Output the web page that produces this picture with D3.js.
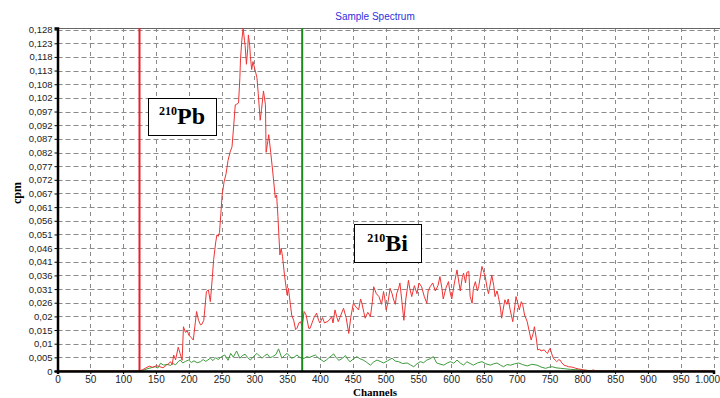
<!DOCTYPE html>
<html>
<head>
<meta charset="utf-8">
<script src="https://cdn.jsdelivr.net/npm/d3@7"></script>
<style>
  body { margin: 0; background: #fff; }
  svg { display: block; }
</style>
</head>
<body>
<svg id="chart" width="720" height="398"></svg>
<script>
// channel / cpm readings
const redSpectrum = [
  [0,0],[125,0],[130,0.0005],[135,0.0012],[140,0.0018],[145,0.0014],[151,0.002],[156,0.0016],[161,0.0012],[166,0.0022],
  [170,0.0028],[172,0.0035],[175,0.0025],[177,0.006],[180,0.0042],[184,0.0089],[187,0.0065],[190,0.004],[192,0.0166],[195,0.0145],
  [198,0.015],[200,0.0135],[204,0.0125],[207,0.0116],[210,0.018],[212,0.0223],[215,0.019],[218,0.0173],[220,0.0175],[223,0.019],
  [227,0.0298],[230,0.0304],[233,0.026],[236,0.035],[238,0.0417],[241,0.048],[243,0.051],[245,0.0505],[247,0.052],[249,0.059],
  [251,0.066],[254,0.071],[257,0.074],[260,0.079],[263,0.082],[266,0.084],[268,0.09],[271,0.0998],[273,0.1],[276,0.1005],
  [278,0.11],[279,0.117],[281,0.124],[283,0.1286],[285,0.124],[286,0.122],[288,0.115],[290,0.121],[291,0.126],[293,0.122],
  [294,0.118],[296,0.113],[298,0.116],[301,0.113],[304,0.110],[306,0.104],[309,0.094],[311,0.098],[314,0.105],[317,0.0998],
  [318,0.082],[320,0.085],[322,0.0886],[325,0.082],[328,0.075],[332,0.065],[334,0.066],[336,0.058],[339,0.0435],[341,0.046],
  [343,0.043],[346,0.036],[350,0.0285],[352,0.031],[355,0.025],[357,0.021],[360,0.019],[363,0.0155],[365,0.016],[368,0.018],
  [370,0.0185],[373,0.017],[376,0.0223],[379,0.021],[383,0.016],[385,0.016],[388,0.018],[391,0.02],[395,0.0217],[398,0.019],
  [400,0.018],[404,0.02],[407,0.018],[411,0.0185],[414,0.019],[418,0.0204],[420,0.018],[423,0.0229],[426,0.02],[428,0.0185],
  [432,0.021],[436,0.0235],[440,0.02],[444,0.0141],[447,0.02],[451,0.0254],[455,0.024],[459,0.0229],[462,0.027],[464,0.0254],
  [467,0.022],[469,0.0198],[473,0.022],[477,0.0204],[480,0.026],[482,0.0316],[486,0.029],[490,0.0279],[494,0.025],[497,0.0298],
  [499,0.027],[501,0.0229],[504,0.026],[507,0.031],[510,0.029],[512,0.027],[515,0.025],[517,0.029],[520,0.031],[522,0.033],
  [525,0.026],[528,0.019],[531,0.027],[535,0.034],[537,0.031],[540,0.0279],[544,0.032],[548,0.029],[551,0.033],[555,0.0316],
  [559,0.028],[563,0.0254],[565,0.03],[568,0.0316],[572,0.033],[576,0.030],[580,0.032],[583,0.0354],[586,0.031],[588,0.027],
  [592,0.031],[596,0.0335],[598,0.03],[601,0.027],[605,0.033],[609,0.0379],[612,0.033],[614,0.030],[617,0.035],[619,0.0367],
  [622,0.033],[624,0.037],[627,0.0373],[629,0.028],[632,0.0254],[634,0.031],[637,0.0335],[640,0.03],[642,0.0316],[645,0.036],
  [647,0.0392],[650,0.037],[652,0.0354],[655,0.031],[657,0.029],[660,0.033],[662,0.036],[665,0.032],[667,0.0279],[670,0.03],
  [672,0.028],[675,0.024],[677,0.0198],[680,0.024],[682,0.0267],[685,0.025],[687,0.027],[690,0.023],[694,0.0185],[697,0.024],
  [699,0.0279],[702,0.025],[704,0.0229],[707,0.026],[709,0.025],[712,0.021],[716,0.0185],[719,0.015],[722,0.0116],[725,0.014],
  [727,0.0166],[730,0.012],[732,0.0079],[735,0.0082],[737,0.0075],[740,0.0078],[742,0.0079],[745,0.007],[747,0.0066],[749,0.0078],
  [751,0.0085],[754,0.006],[756,0.0048],[759,0.004],[761,0.0035],[764,0.0042],[766,0.0041],[769,0.003],[772,0.0022],[776,0.0019],
  [779,0.0016],[783,0.0015],[787,0.0013],[790,0.001],[794,0.0008],[798,0.0006],[802,0.0004],[808,0.0002],[813,0.0001],[817,0.0004],
  [820,0.0001],[825,0],[1000,0]
];

const greenSpectrum = [
  [0,0],[125,0],[132,0.0004],[138,0.0009],[144,0.0013],[149,0.0016],[153,0.0011],[157,0.0029],[162,0.0022],[167,0.0025],
  [172,0.0021],[176,0.0028],[180,0.0023],[184,0.0035],[187,0.0041],[191,0.003],[195,0.0036],[200,0.0041],[204,0.0032],[208,0.0038],
  [213,0.0031],[218,0.0035],[222,0.0043],[226,0.0036],[229,0.0041],[233,0.0048],[237,0.0039],[241,0.005],[245,0.0043],[250,0.0054],
  [255,0.006],[260,0.004],[264,0.0066],[268,0.0052],[273,0.0075],[278,0.0048],[282,0.0058],[286,0.0063],[290,0.005],[294,0.0041],
  [299,0.0055],[304,0.0066],[308,0.0056],[312,0.0048],[316,0.0058],[320,0.0063],[324,0.005],[328,0.0054],[333,0.0062],[337,0.0083],
  [342,0.0048],[346,0.0058],[350,0.0066],[354,0.0055],[357,0.0048],[361,0.0052],[365,0.006],[369,0.0052],[373,0.0046],[377,0.0049],
  [380,0.0054],[384,0.0051],[388,0.0055],[393,0.006],[398,0.0048],[402,0.0042],[406,0.0035],[410,0.0042],[413,0.0048],[417,0.0056],
  [421,0.0064],[425,0.0049],[429,0.004],[434,0.0047],[439,0.0058],[443,0.0042],[446,0.0035],[451,0.0045],[456,0.0054],[461,0.0046],
  [466,0.0041],[471,0.0033],[477,0.0022],[482,0.0034],[487,0.0041],[492,0.0036],[497,0.003],[503,0.0038],[510,0.0048],[515,0.0037],
  [520,0.0035],[526,0.0028],[533,0.003],[538,0.0023],[543,0.0016],[548,0.0027],[553,0.0035],[558,0.0031],[563,0.0041],[568,0.0046],
  [573,0.0054],[578,0.003],[583,0.0026],[589,0.0022],[594,0.003],[599,0.0035],[604,0.0029],[609,0.0041],[614,0.003],[619,0.0022],
  [624,0.0035],[629,0.0028],[634,0.0022],[640,0.003],[647,0.0035],[653,0.0027],[660,0.0022],[665,0.0027],[670,0.003],[675,0.0022],
  [680,0.0016],[685,0.0024],[691,0.0022],[697,0.0027],[703,0.003],[709,0.0024],[716,0.0019],[723,0.0025],[731,0.0022],[737,0.0015],
  [744,0.001],[749,0.0014],[754,0.0016],[760,0.0012],[767,0.001],[775,0.0008],[782,0.0006],[790,0.0005],[797,0.0004],[803,0.0003],
  [810,0.0002],[818,0],[1000,0]
];

const xTickValues = [0, 50, 100, 150, 200, 250, 300, 350, 400, 450, 500, 550, 600, 650, 700, 750, 800, 850, 900, 950, 1000];
const xTickLabels = ["0","50","100","150","200","250","300","350","400","450","500","550","600","650","700","750","800","850","900","950","1.000"];
const yTickLabels = ["0","0,005","0,01","0,015","0,02","0,026","0,031","0,036","0,041","0,046","0,051","0,056","0,061",
  "0,067","0,072","0,077","0,082","0,087","0,092","0,097","0,102","0,108","0,113","0,118","0,123","0,128"];
const yMax = 0.128;
const yTop = 0.1286;

const pbChannel = 125;   // red window marker
const biChannel = 373;   // green window marker

const svg = d3.select("#chart");
const plotL = 57.5, plotR = 713.5, plotT = 28, plotB = 371;

const x = d3.scaleLinear().domain([0, 1000]).range([plotL, plotR]);
const y = d3.scaleLinear().domain([0, yTop]).range([plotB, plotT]);
const yTickValues = yTickLabels.map((d, i) => i * yMax / (yTickLabels.length - 1));

// grid
const grid = svg.append("g").attr("stroke", "#8a8a8a").attr("stroke-width", 1).attr("stroke-dasharray", "5,3");
grid.selectAll(".hg").data(yTickValues.slice(1)).enter().append("line")
  .attr("x1", plotL).attr("x2", 720)
  .attr("y1", d => Math.round(y(d)) + 0.5).attr("y2", d => Math.round(y(d)) + 0.5);
grid.selectAll(".vg").data(xTickValues.slice(1)).enter().append("line")
  .attr("x1", d => Math.round(x(d)) + 0.5).attr("x2", d => Math.round(x(d)) + 0.5)
  .attr("y1", plotT).attr("y2", plotB)
  .attr("stroke-dasharray", "4,4");

// top frame
svg.append("line").attr("x1", plotL).attr("x2", 720).attr("y1", plotT + 0.5).attr("y2", plotT + 0.5)
  .attr("stroke", "#666").attr("stroke-width", 1);

svg.append("clipPath").attr("id", "plot").append("rect")
  .attr("x", plotL).attr("y", plotT - 1).attr("width", 720 - plotL).attr("height", plotB - plotT + 1);

const line = d3.line().x(d => x(d[0])).y(d => y(d[1]));

svg.append("path").datum(greenSpectrum).attr("clip-path", "url(#plot)")
  .attr("fill", "none").attr("stroke", "#3c9a3c").attr("stroke-width", 1).attr("d", line);
svg.append("path").datum(redSpectrum).attr("clip-path", "url(#plot)")
  .attr("fill", "none").attr("stroke", "#ee3333").attr("stroke-width", 1).attr("d", line);

// window markers
svg.append("line").attr("x1", x(pbChannel)).attr("x2", x(pbChannel)).attr("y1", plotT).attr("y2", plotB)
  .attr("stroke", "#e8202a").attr("stroke-width", 2);
svg.append("line").attr("x1", x(biChannel)).attr("x2", x(biChannel)).attr("y1", plotT).attr("y2", plotB)
  .attr("stroke", "#1a8a1a").attr("stroke-width", 2);

// axes
const yAxis = d3.axisLeft(y).tickValues(yTickValues).tickSize(3).tickPadding(2)
  .tickFormat((d, i) => yTickLabels[i]);
const gy = svg.append("g").attr("transform", `translate(${plotL},0)`).call(yAxis);
gy.select(".domain").attr("stroke", "#000").attr("stroke-width", 2.5);
gy.selectAll("text").attr("font-family", "Liberation Sans, Arial, sans-serif").attr("font-size", 9.5).attr("fill", "#222");

const xAxis = d3.axisBottom(x).tickValues(xTickValues).tickSize(3).tickPadding(2)
  .tickFormat((d, i) => xTickLabels[i]);
const gx = svg.append("g").attr("transform", `translate(0,${plotB})`).call(xAxis);
gx.select(".domain").attr("stroke", "#000").attr("stroke-width", 2.5);
gx.selectAll("text").attr("font-family", "Liberation Sans, Arial, sans-serif").attr("font-size", 10).attr("fill", "#222");
// last label sits at the right edge; keep it inside the page
gx.selectAll(".tick").filter((d, i) => i === xTickValues.length - 1).select("text").attr("text-anchor", "end").attr("dx", 6);

// titles
svg.append("text").attr("x", 375).attr("y", 20).attr("text-anchor", "middle")
  .attr("font-family", "Liberation Sans, Arial, sans-serif").attr("font-size", 10).attr("fill", "#3030e0")
  .text("Sample Spectrum");
svg.append("text").attr("x", 375).attr("y", 395.5).attr("text-anchor", "middle")
  .attr("font-family", "Liberation Serif, Times New Roman, serif").attr("font-weight", "bold").attr("font-size", 11)
  .text("Channels");
svg.append("text").attr("transform", "translate(21,193) rotate(-90)").attr("text-anchor", "middle")
  .attr("font-family", "Liberation Serif, Times New Roman, serif").attr("font-weight", "bold").attr("font-size", 12)
  .text("cpm");

// isotope labels
function isoLabel(bx, by, bw, bh, mass, sym) {
  svg.append("rect").attr("x", bx + 0.5).attr("y", by + 0.5).attr("width", bw).attr("height", bh)
    .attr("fill", "#fff").attr("stroke", "#000").attr("stroke-width", 1);
  const t = svg.append("text").attr("x", bx + bw / 2).attr("y", by + bh - 11).attr("text-anchor", "middle")
    .attr("font-family", "Liberation Serif, Times New Roman, serif").attr("font-weight", "bold");
  t.append("tspan").attr("font-size", 12).attr("dy", -9).text(mass);
  t.append("tspan").attr("font-size", 24).attr("dy", 9).text(sym);
}
isoLabel(148, 98, 68, 37, "210", "Pb");
isoLabel(354, 224, 67, 38, "210", "Bi");
</script>
</body>
</html>
